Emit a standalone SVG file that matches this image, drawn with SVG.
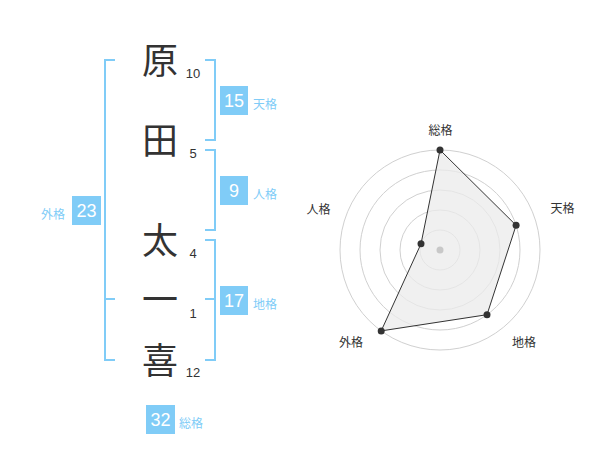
<svg xmlns="http://www.w3.org/2000/svg" width="600" height="470" viewBox="0 0 600 470">
<style>
.ch{font-family:"Noto Sans CJK JP","Noto Sans CJK SC",sans-serif;font-size:36px;fill:#333;text-anchor:middle}
.num{font-family:"Liberation Sans",Arial,sans-serif;font-size:13px;fill:#333;text-anchor:middle}
.br{fill:none;stroke:#80ccf7;stroke-width:2}
.box{fill:#80ccf7}
.bt{font-family:"Liberation Sans",Arial,sans-serif;font-size:18px;fill:#fff;text-anchor:middle}
.lb{font-family:"Noto Sans CJK JP","Noto Sans CJK SC",sans-serif;font-size:12px;fill:#80ccf7}
.ring{fill:none;stroke:#d0d0d0;stroke-width:1}
.rl{font-family:"Noto Sans CJK JP","Noto Sans CJK SC",sans-serif;font-size:12px;fill:#333;text-anchor:middle}
.dot{fill:#333}
</style>
<rect width="600" height="470" fill="#fff"/>
<g id="connectors">
<path class="br" d="M115,60 H105 V360 H115 M105,299 H115"/>
<path class="br" d="M205,60 H215 V140 H205"/>
<path class="br" d="M205,150 H215 V230 H205"/>
<path class="br" d="M205,240 H215 V360 H205 M205,299 H215"/>
</g>
<g id="char-hara"><text class="ch" x="160" y="74">原</text><text class="num" x="193" y="77.5">10</text></g>
<g id="char-ta"><text class="ch" x="160" y="154">田</text><text class="num" x="193" y="157.5">5</text></g>
<g id="char-futo"><text class="ch" x="160" y="254">太</text><text class="num" x="193" y="257.5">4</text></g>
<g id="char-ichi"><text class="ch" x="160" y="313">一</text><text class="num" x="193" y="317.5">1</text></g>
<g id="char-ki"><text class="ch" x="160" y="374">喜</text><text class="num" x="193" y="377">12</text></g>
<g id="tenkaku"><rect class="box" x="220" y="86" width="28" height="29"/><text class="bt" x="234" y="107">15</text><text class="lb" x="253" y="108.5">天格</text></g>
<g id="jinkaku"><rect class="box" x="220" y="176" width="28" height="29"/><text class="bt" x="234" y="197">9</text><text class="lb" x="253" y="198.5">人格</text></g>
<g id="chikaku"><rect class="box" x="220" y="286" width="28" height="29"/><text class="bt" x="234" y="307">17</text><text class="lb" x="253" y="308.5">地格</text></g>
<g id="gaikaku"><rect class="box" x="72" y="196" width="29" height="29"/><text class="bt" x="86.5" y="217">23</text><text class="lb" x="41" y="218.5">外格</text></g>
<g id="soukaku"><rect class="box" x="146" y="405" width="29" height="29"/><text class="bt" x="160.5" y="426">32</text><text class="lb" x="179" y="427.5">総格</text></g>
<g id="radar">
<circle class="ring" cx="440" cy="250" r="20"/>
<circle class="ring" cx="440" cy="250" r="40"/>
<circle class="ring" cx="440" cy="250" r="60"/>
<circle class="ring" cx="440" cy="250" r="80"/>
<circle class="ring" cx="440" cy="250" r="100"/>
<polygon points="440,150 516.1,225.3 487,314.7 381.2,330.9 421,243.8" fill="#ebebeb" fill-opacity="0.75" stroke="#333" stroke-width="1"/>
<circle cx="440" cy="250" r="3.5" fill="#c8c8c8"/>
<circle class="dot" cx="440" cy="150" r="3.5"/>
<circle class="dot" cx="516.1" cy="225.3" r="3.5"/>
<circle class="dot" cx="487" cy="314.7" r="3.5"/>
<circle class="dot" cx="381.2" cy="330.9" r="3.5"/>
<circle class="dot" cx="421" cy="243.8" r="3.5"/>
<text class="rl" x="440.5" y="134.5">総格</text>
<text class="rl" x="562.5" y="213">天格</text>
<text class="rl" x="524" y="346.5">地格</text>
<text class="rl" x="351" y="346.5">外格</text>
<text class="rl" x="318.5" y="213.5">人格</text>
</g>
</svg>
